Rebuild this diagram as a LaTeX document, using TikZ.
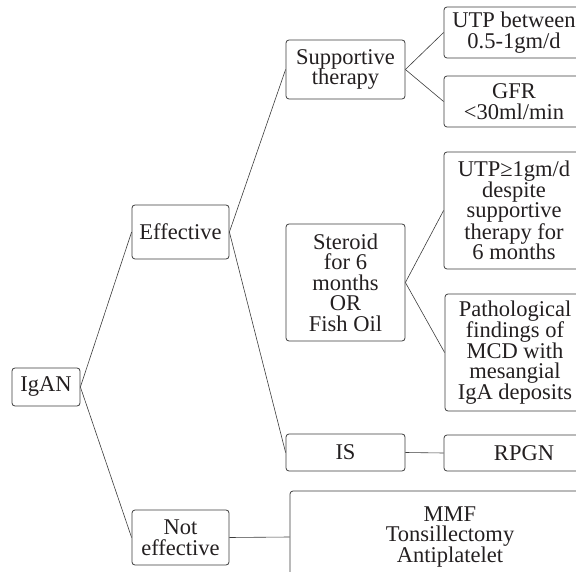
\documentclass[tikz,border=0pt]{standalone}
\usepackage{fontspec}
\setmainfont{Liberation Serif}

\definecolor{boxline}{HTML}{3C3C3C}
\definecolor{boxtext}{HTML}{231F20}
\tikzset{
	box/.style={draw=boxline,rounded corners=3pt,line width=0.8pt,align=center,
		inner sep=1pt,text=boxtext,font=\fontsize{22.5}{20.5}\selectfont},
	link/.style={draw=boxline,line width=0.6pt},
}

\begin{document}
\begin{tikzpicture}[x=1pt,y=-1pt]
	\useasboundingbox (0,0) rectangle (576,572);
	\clip (0,0) rectangle (576,572);
	% left column
	\node[box,minimum width=68,minimum height=38] (igan) at (46,387) {IgAN};
	\node[box,minimum width=97,minimum height=54] (eff) at (180.5,232) {Effective};
	\node[box,minimum width=97,minimum height=55] (noteff) at (180.5,537.5) {Not\\effective};
	% middle column
	\node[box,minimum width=119,minimum height=59] (supp) at (345.5,69.5) {Supportive\\therapy};
	\node[box,minimum width=119,minimum height=117] (ster) at (345.5,282.5) {Steroid\\for 6\\months\\OR\\Fish Oil};
	\node[box,minimum width=119,minimum height=37] (is) at (345.5,452.5) {IS};
	% right column (runs past the edge)
	\node[box,minimum width=140,minimum height=51] (utpa) at (514,32.5) {UTP between\\0.5-1gm/d};
	\node[box,minimum width=140,minimum height=51] (gfr) at (514,101.5) {GFR\\<30ml/min};
	\node[box,minimum width=140,minimum height=117] (utpb) at (514,210.5) {UTP≥1gm/d\\despite\\supportive\\therapy for\\6 months};
	\node[box,minimum width=140,minimum height=117] (path) at (515,352.5) {Pathological\\findings of\\MCD with\\mesangial\\IgA deposits};
	\node[box,minimum width=160,minimum height=36] (rpgn) at (524,453) {RPGN};
	\node[box,minimum width=320,minimum height=92] (mmf) at (450,537) {MMF\\Tonsillectomy\\Antiplatelet};
	% connectors
	\draw[link] (igan.east) -- (eff.west);
	\draw[link] (igan.east) -- (noteff.west);
	\draw[link] (eff.east) -- (supp.west);
	\draw[link] (eff.east) -- (is.west);
	\draw[link] (supp.east) -- (utpa.west);
	\draw[link] (supp.east) -- (gfr.west);
	\draw[link] (ster.east) -- (utpb.west);
	\draw[link] (ster.east) -- (path.west);
	\draw[link] (is.east) -- (rpgn.west);
	\draw[link] (noteff.east) -- (mmf.west);
\end{tikzpicture}
\end{document}
